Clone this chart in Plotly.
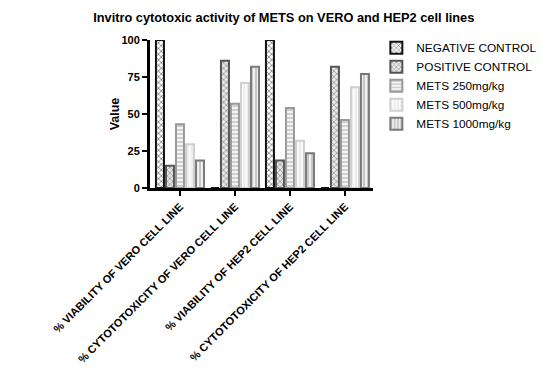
import plotly.graph_objects as go

categories = ["% VIABILITY OF VERO CELL LINE", "% CYTOTOTOXICITY OF VERO CELL LINE",
              "% VIABILITY OF HEP2 CELL LINE", "% CYTOTOTOXICITY OF HEP2 CELL LINE"]
negative_control = [100, 0, 100, 0]
positive_control = [15, 86, 18.5, 82]
mets_250 = [43, 57, 54, 46]
mets_500 = [29.5, 71, 32, 68]
mets_1000 = [18.5, 82, 23.5, 77]
y_ticks = [0, 25, 50, 75, 100]

series = [
    ("NEGATIVE CONTROL", negative_control, "#111111", "x", "#111111", "#ffffff"),
    ("POSITIVE CONTROL", positive_control, "#555555", "x", "#555555", "#e8e8e8"),
    ("METS 250mg/kg", mets_250, "#999999", "-", "#999999", "#f4f4f4"),
    ("METS 500mg/kg", mets_500, "#d0d0d0", "|", "#d8d8d8", "#fafafa"),
    ("METS 1000mg/kg", mets_1000, "#7a7a7a", "|", "#888888", "#f0f0f0"),
]

fig = go.Figure()
for name, vals, line_c, shape, fg, bg in series:
    fig.add_trace(go.Bar(
        name=name, x=categories, y=vals,
        marker=dict(color=bg, line=dict(color=line_c, width=2),
                    pattern=dict(shape=shape, fgcolor=fg, bgcolor=bg, size=4, solidity=0.4)),
    ))

fig.update_layout(
    width=546, height=366,
    barmode="group", bargap=0.09, bargroupgap=0.2,
    paper_bgcolor="white", plot_bgcolor="white",
    margin=dict(l=142, r=181, t=32, b=186),
    font=dict(family="Liberation Sans, Arial, sans-serif", color="black"),
    title=dict(text="<b>Invitro cytotoxic activity of METS on VERO and HEP2 cell lines</b>",
               x=0.505, xanchor="center", y=0.975, yanchor="middle",
               font=dict(size=12.8)),
    legend=dict(x=1.015, y=1.045, xanchor="left", yanchor="top",
                font=dict(size=11.8), itemsizing="constant", tracegroupgap=0,
                bgcolor="rgba(0,0,0,0)"),
    xaxis=dict(range=[-0.545, 3.51], showline=True, linecolor="black", linewidth=3,
               ticks="outside", ticklen=5, tickwidth=2, tickcolor="black",
               tickangle=-45, tickfont=dict(size=11, family="Liberation Sans, Arial", weight="bold"),
               showgrid=False, zeroline=False, automargin=False),
    yaxis=dict(range=[0, 100], tickvals=y_ticks, showline=True, linecolor="black", linewidth=3,
               ticks="outside", ticklen=5, tickwidth=2, tickcolor="black",
               tickfont=dict(size=11, weight="bold"),
               title=dict(text="<b>Value</b>", font=dict(size=12.5), standoff=0),
               showgrid=False, zeroline=False, automargin=False),
)

fig.write_html("out.html")
